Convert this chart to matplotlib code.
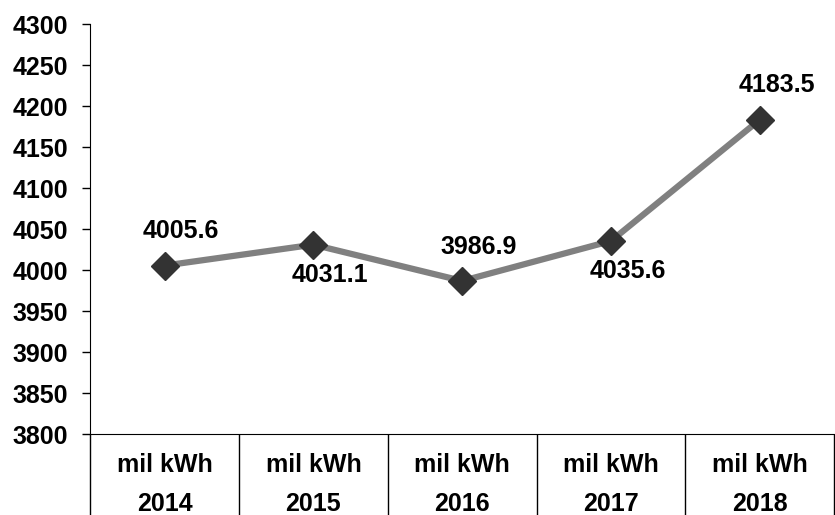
import matplotlib
matplotlib.use('Agg')
import matplotlib.pyplot as plt
import matplotlib.transforms as mtransforms

years = ['2014', '2015', '2016', '2017', '2018']
unit = 'mil kWh'
values = [4005.6, 4031.1, 3986.9, 4035.6, 4183.5]
label_above = [True, False, True, False, True]

plt.rcParams['font.family'] = ['Liberation Sans', 'DejaVu Sans']
plt.rcParams['font.weight'] = 'bold'
fs = 18

fig = plt.figure(figsize=(8.35, 5.15), dpi=100)
ax = fig.add_axes([0.108, 0.157, 0.891, 0.796])

x = [i + 0.5 for i in range(len(years))]
ax.plot(x, values, color='#808080', lw=4.5, marker='D', markersize=14,
        markerfacecolor='#333333', markeredgecolor='#333333', zorder=3)

# labels sit a little right of the points, as in the original
for xi, v, up in zip(x, values, label_above):
    if up:
        ax.annotate(f'{v:.1f}', (xi, v), xytext=(12, 16), textcoords='offset points',
                    ha='center', va='bottom', fontsize=fs, fontweight='bold')
    else:
        ax.annotate(f'{v:.1f}', (xi, v), xytext=(12, -13), textcoords='offset points',
                    ha='center', va='top', fontsize=fs, fontweight='bold')

ax.set_xlim(0, len(years))
ax.set_ylim(3800, 4300)
ax.set_yticks(range(3800, 4301, 50))
ax.tick_params(axis='y', labelsize=fs, length=6, width=1, direction='out', pad=10)
for t in ax.get_yticklabels():
    t.set_fontweight('bold')

ax.set_xticks(range(len(years) + 1))
ax.set_xticklabels([])
ax.tick_params(axis='x', length=58, width=1, direction='out')

trans = mtransforms.blended_transform_factory(ax.transData, ax.transAxes)
for xi, yr in zip(x, years):
    ax.text(xi, -0.093, unit, transform=trans, ha='center', va='baseline',
            fontsize=fs, fontweight='bold')
    ax.text(xi, -0.188, yr, transform=trans, ha='center', va='baseline',
            fontsize=fs, fontweight='bold')

ax.spines['top'].set_visible(False)
ax.spines['right'].set_visible(False)

fig.savefig('out.png', dpi=100)
